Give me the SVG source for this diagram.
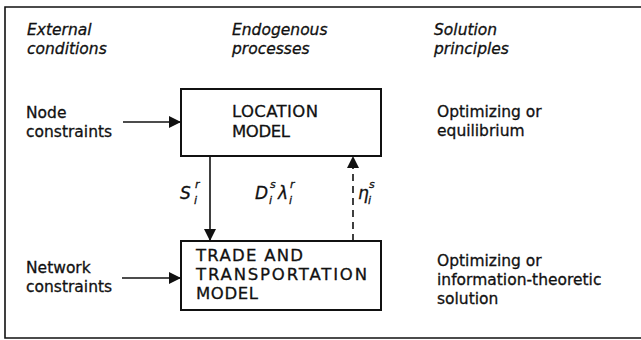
<svg xmlns="http://www.w3.org/2000/svg" width="641" height="340" viewBox="0 0 641 340">
<style>
text{font-family:"DejaVu Sans","Liberation Sans",Arial,sans-serif;fill:#111;stroke:#111;stroke-width:0.3}
.h{font-size:15.5px;font-style:italic}
.t{font-size:15.5px}
.c{font-size:16.5px}
.m{font-size:17px;font-style:italic}
.s{font-size:11px;font-style:italic}
.box{fill:#fff;stroke:#111;stroke-width:2}
.ln{stroke:#111;stroke-width:1.6;fill:none}
</style>
<defs>
<marker id="ah" viewBox="0 0 12 12" refX="12" refY="6" markerWidth="12" markerHeight="12" markerUnits="userSpaceOnUse" orient="auto">
<path d="M0,0 L12,6 L0,12 Z" fill="#111"/>
</marker>
</defs>
<rect width="641" height="340" fill="#fff"/>
<g id="frame">
<path d="M641,7 H5 V338 H641" class="ln" stroke-width="2"/>
</g>
<g id="headers">
<text class="h" x="27" y="35">External</text>
<text class="h" x="27" y="54">conditions</text>
<text class="h" x="232" y="35">Endogenous</text>
<text class="h" x="232" y="54">processes</text>
<text class="h" x="434" y="35">Solution</text>
<text class="h" x="434" y="54">principles</text>
</g>
<g id="location">
<rect class="box" x="181" y="89" width="200" height="67"/>
<text class="c" x="232" y="117" textLength="86" lengthAdjust="spacing">LOCATION</text>
<text class="c" x="232" y="137" textLength="58" lengthAdjust="spacing">MODEL</text>
</g>
<g id="trade">
<rect class="box" x="181" y="241" width="200" height="69"/>
<text class="c" x="196" y="261" textLength="107" lengthAdjust="spacing">TRADE AND</text>
<text class="c" x="196" y="280" textLength="171" lengthAdjust="spacing">TRANSPORTATION</text>
<text class="c" x="196" y="299" textLength="62" lengthAdjust="spacing">MODEL</text>
</g>
<g id="node-constraints">
<text class="t" x="26" y="118">Node</text>
<text class="t" x="26" y="137">constraints</text>
</g>
<g id="network-constraints">
<text class="t" x="26" y="273">Network</text>
<text class="t" x="26" y="292">constraints</text>
</g>
<g id="solution1">
<text class="t" x="437" y="117">Optimizing or</text>
<text class="t" x="437" y="136">equilibrium</text>
</g>
<g id="solution2">
<text class="t" x="437" y="266">Optimizing or</text>
<text class="t" x="437" y="285">information-theoretic</text>
<text class="t" x="437" y="304">solution</text>
</g>
<g id="connectors">
<line class="ln" x1="123" y1="122" x2="181" y2="122" marker-end="url(#ah)"/>
<line class="ln" x1="122" y1="278" x2="181" y2="278" marker-end="url(#ah)"/>
<line class="ln" x1="210" y1="156" x2="210" y2="241" marker-end="url(#ah)"/>
<line class="ln" x1="353" y1="241" x2="353" y2="156" stroke-dasharray="7,5" marker-end="url(#ah)"/>
</g>
<g id="labels">
<text class="m" x="180" y="199">S</text>
<text class="s" x="195" y="188">r</text>
<text class="s" x="194" y="204">i</text>
<text class="m" x="255" y="199">D</text>
<text class="s" x="270" y="188">s</text>
<text class="s" x="269" y="204">i</text>
<text class="m" x="278" y="199">λ</text>
<text class="s" x="290" y="188">r</text>
<text class="s" x="289" y="204">i</text>
<text class="m" x="358" y="199">η</text>
<text class="s" x="369" y="188">s</text>
<text class="s" x="368" y="204">i</text>
</g>
</svg>
